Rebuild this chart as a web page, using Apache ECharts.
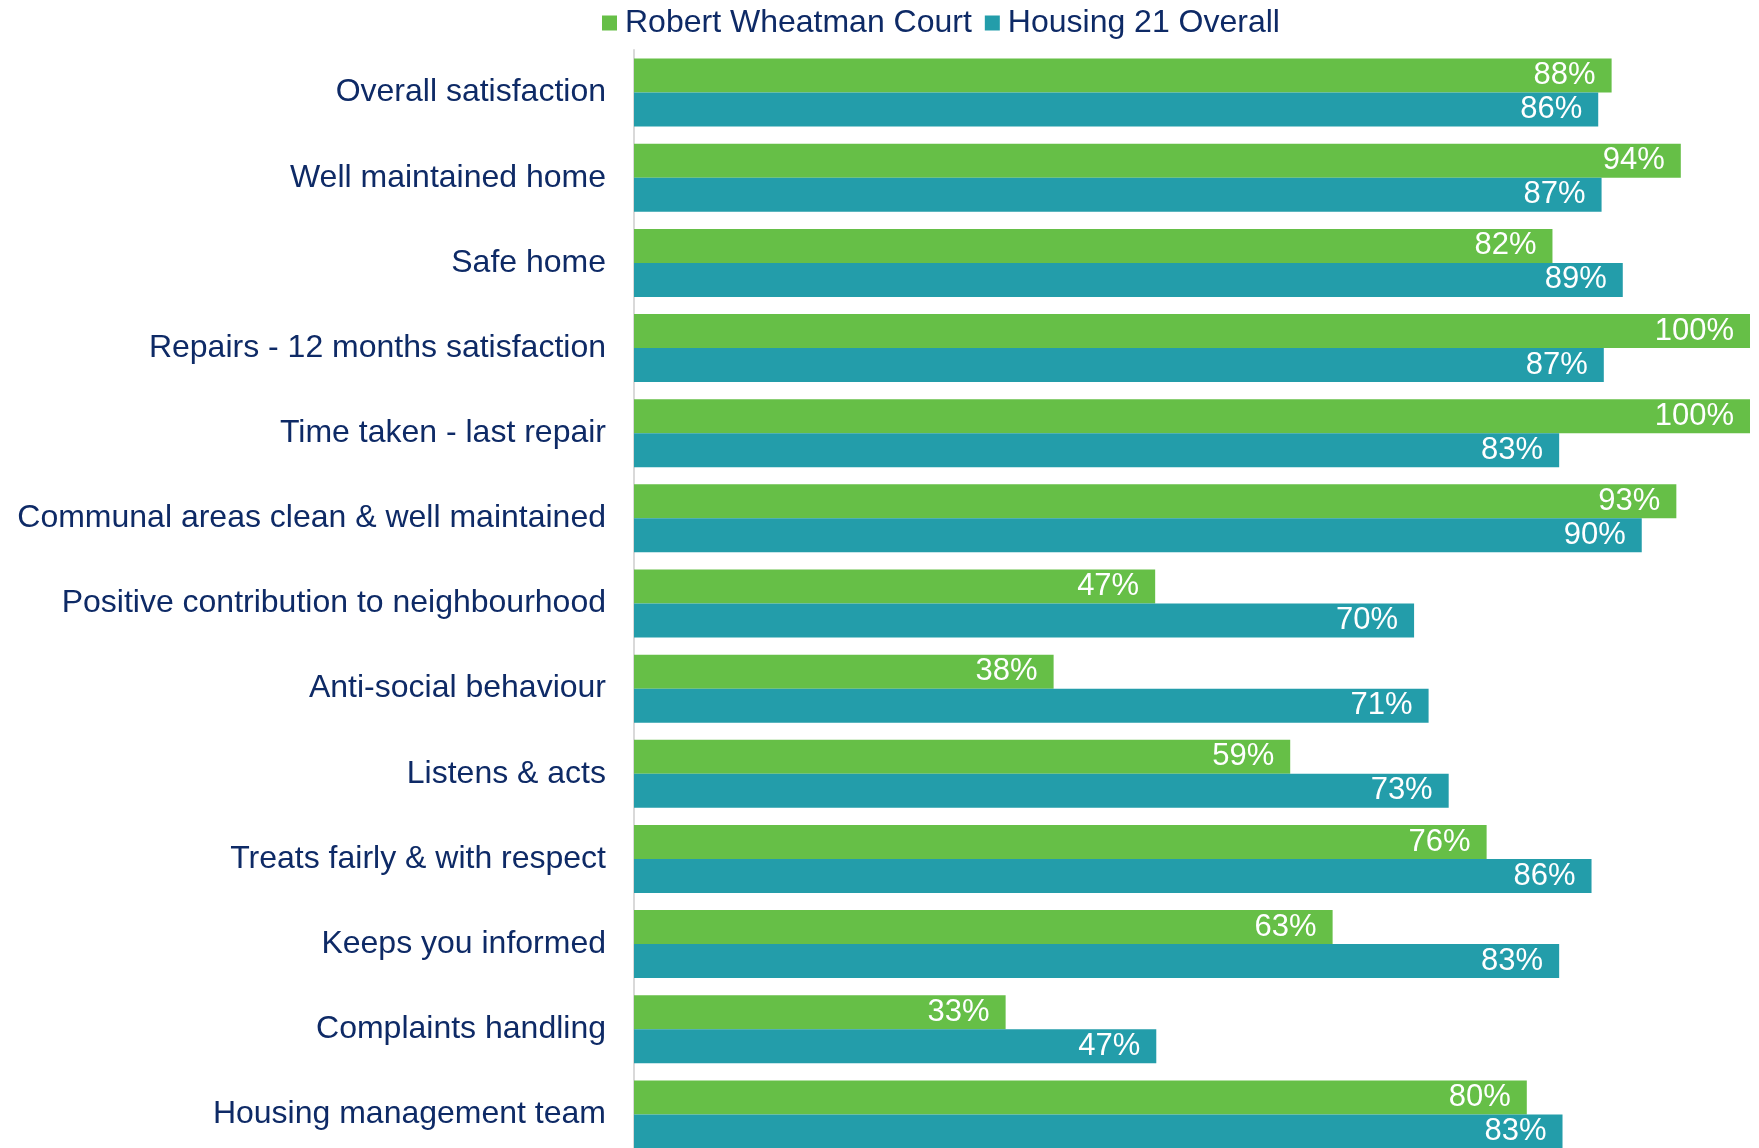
<!DOCTYPE html>
<html>
<head>
<meta charset="utf-8">
<script src="https://cdn.jsdelivr.net/npm/echarts@6/dist/echarts.min.js"></script>
<style>
  html, body { margin: 0; padding: 0; background: #fff; }
  #chart { width: 1759px; height: 1148px; }
</style>
</head>
<body>
<div id="chart"></div>
<script>
// 数据（条长按图上读数估计，标签取整显示）
var categories = ['Overall satisfaction', 'Well maintained home', 'Safe home',
    'Repairs - 12 months satisfaction', 'Time taken - last repair',
    'Communal areas clean & well maintained', 'Positive contribution to neighbourhood',
    'Anti-social behaviour', 'Listens & acts', 'Treats fairly & with respect',
    'Keeps you informed', 'Complaints handling', 'Housing management team'];
var courtValues = [87.6, 93.8, 82.3, 100, 100, 93.4, 46.7, 37.6, 58.8, 76.4, 62.6, 33.3, 80.0];
var overallValues = [86.4, 86.7, 88.6, 86.9, 82.9, 90.3, 69.9, 71.2, 73.0, 85.8, 82.9, 46.8, 83.2];

var chart = echarts.init(document.getElementById('chart'));

var labelStyle = {
    show: true,
    position: 'insideRight',
    distance: 16,
    color: '#ffffff',
    fontSize: 31,
    padding: [5, 0, 0, 0],
    fontFamily: 'Liberation Sans, Arial, sans-serif',
    formatter: function (p) { return Math.round(p.value) + '%'; }
};

var option = {
    animation: false,
    textStyle: { fontFamily: 'Liberation Sans, Arial, sans-serif' },
    legend: {
        top: 2,
        left: 597,
        itemWidth: 15,
        itemHeight: 15,
        itemGap: 13,
        icon: 'rect',
        textStyle: { fontSize: 32, color: '#0E2A66', padding: [0, 0, 0, 3] },
        data: ['Robert Wheatman Court', 'Housing 21 Overall']
    },
    grid: {
        left: 634,
        width: 1116,
        top: 50,
        height: 1107,
        outerBoundsMode: 'none'
    },
    xAxis: {
        type: 'value',
        min: 0,
        max: 100,
        show: false
    },
    yAxis: {
        type: 'category',
        inverse: true,
        data: categories,
        axisLine: { show: true, lineStyle: { color: '#D9D9D9', width: 2 } },
        axisTick: { show: false },
        axisLabel: {
            fontSize: 32,
            color: '#0E2A66',
            margin: 28,
            padding: [5, 0, 0, 0]
        }
    },
    series: [
        {
            name: 'Robert Wheatman Court',
            type: 'bar',
            barWidth: 34,
            barGap: '0%',
            itemStyle: { color: '#66BF47' },
            label: labelStyle,
            data: courtValues
        },
        {
            name: 'Housing 21 Overall',
            type: 'bar',
            barWidth: 34,
            barGap: '0%',
            itemStyle: { color: '#239DAA' },
            label: labelStyle,
            data: overallValues
        }
    ]
};

chart.setOption(option);
</script>
</body>
</html>
